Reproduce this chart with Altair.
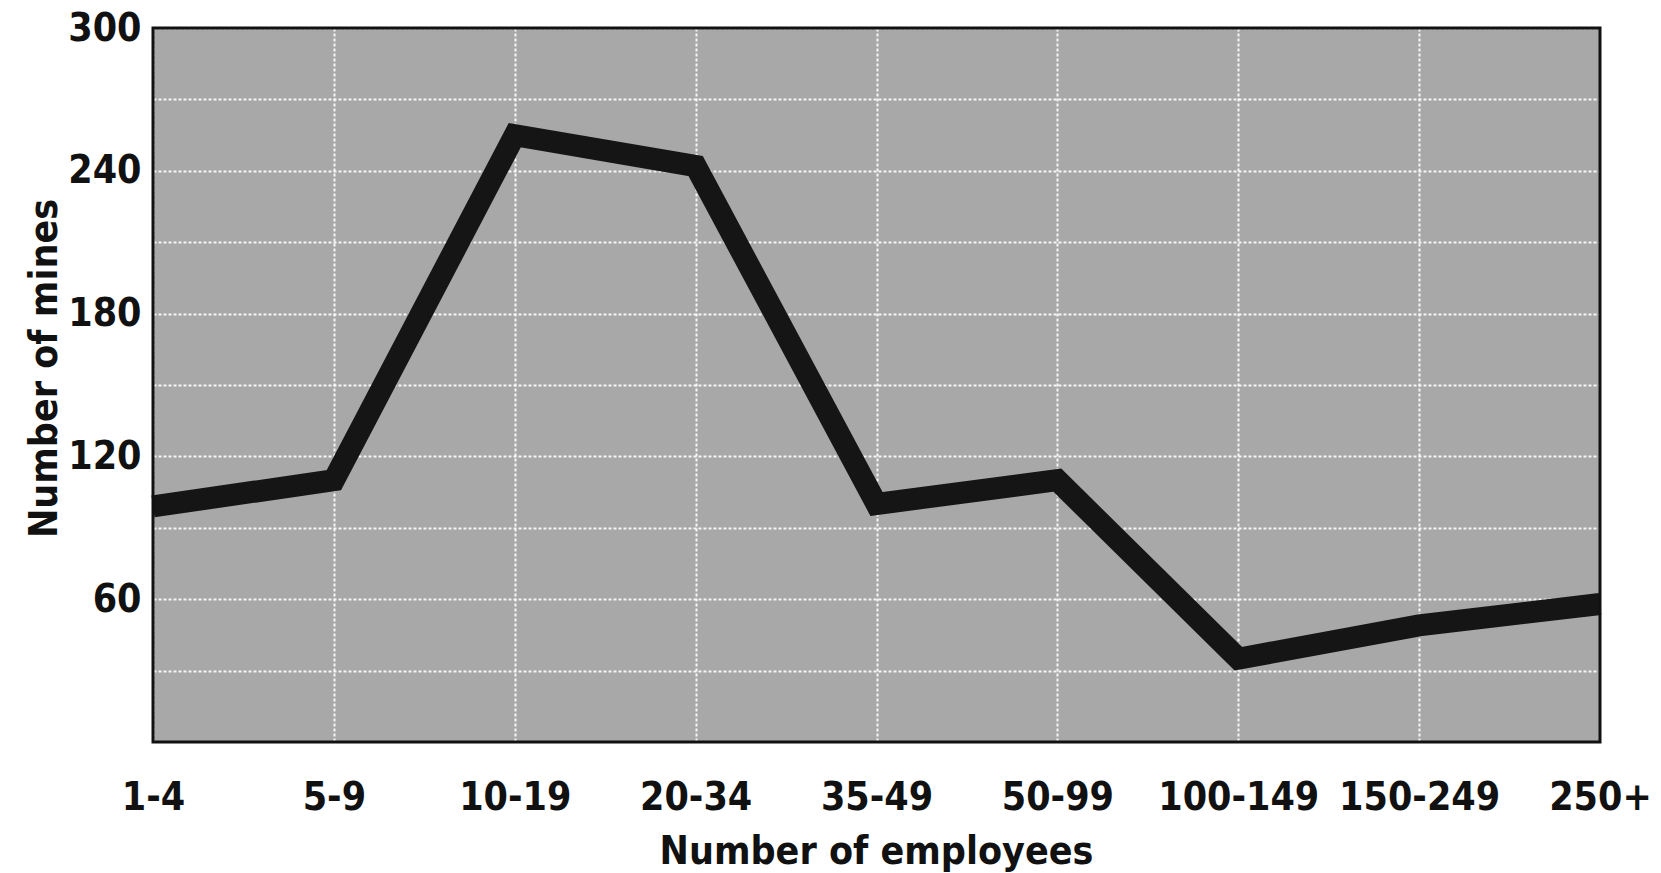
import altair as alt
import pandas as pd

# Mines by number of employees
size_classes = ["1-4", "5-9", "10-19", "20-34", "35-49", "50-99",
                "100-149", "150-249", "250+"]
mine_counts = [99, 110, 255, 242, 100, 110, 35, 49, 58]

df = pd.DataFrame({"employees": size_classes, "mines": mine_counts})

FONT = "DejaVu Sans Condensed, Liberation Sans Narrow, sans-serif"
FS = 39
W, H = 1447, 714

line = alt.Chart(df).mark_line(
    color="#151515", strokeWidth=22, strokeJoin="miter", strokeCap="butt"
).encode(
    x=alt.X(
        "employees:N",
        sort=size_classes,
        scale=alt.Scale(type="point", padding=0),
        axis=alt.Axis(
            title="Number of employees",
            labelAngle=0,
            ticks=False,
            domain=False,
            grid=True,
            gridColor="white",
            gridWidth=2,
            gridDash=[3, 2],
            gridOpacity=0.9,
            labelPadding=67,
            labelBaseline="alphabetic",
            labelFontSize=FS,
            labelFont=FONT,
            labelFontWeight="bold",
            labelColor="#111",
            titleFontSize=FS,
            titleFont=FONT,
            titleFontWeight="bold",
            titleColor="#111",
            titleBaseline="alphabetic",
            titleX=723,
            titleY=121,
        ),
    ),
    y=alt.Y(
        "mines:Q",
        scale=alt.Scale(domain=[0, 300], nice=False, zero=True),
        axis=alt.Axis(
            title="Number of mines",
            values=[0, 30, 60, 90, 120, 150, 180, 210, 240, 270, 300],
            labelExpr="datum.value > 0 && datum.value % 60 == 0 ? datum.label : ''",
            ticks=False,
            domain=False,
            grid=True,
            gridColor="white",
            gridWidth=2,
            gridDash=[3, 2],
            gridOpacity=0.9,
            labelPadding=12,
            labelFontSize=FS,
            labelFont=FONT,
            labelFontWeight="bold",
            labelColor="#111",
            labelBaseline="middle",
            titleFontSize=FS,
            titleFont=FONT,
            titleFontWeight="bold",
            titleColor="#111",
            titleAngle=270,
            titleBaseline="alphabetic",
            titleX=-97,
            titleY=340,
        ),
    ),
)

# solid frame drawn above the grid
frame = alt.Chart(pd.DataFrame({"k": [0]})).mark_rect(
    fillOpacity=0, stroke="#111111", strokeWidth=3
).encode(
    x=alt.value(0), x2=alt.value(W), y=alt.value(0), y2=alt.value(H)
)

chart = alt.layer(line, frame).properties(
    width=W,
    height=H,
    padding={"left": 153, "top": 28, "right": 61, "bottom": 131},
    autosize=alt.AutoSizeParams(type="none"),
    background="white",
).configure_view(
    fill="#a8a8a8",
    strokeWidth=0,
)

chart.save("out.html", embed_options={"renderer": "svg", "actions": False})
